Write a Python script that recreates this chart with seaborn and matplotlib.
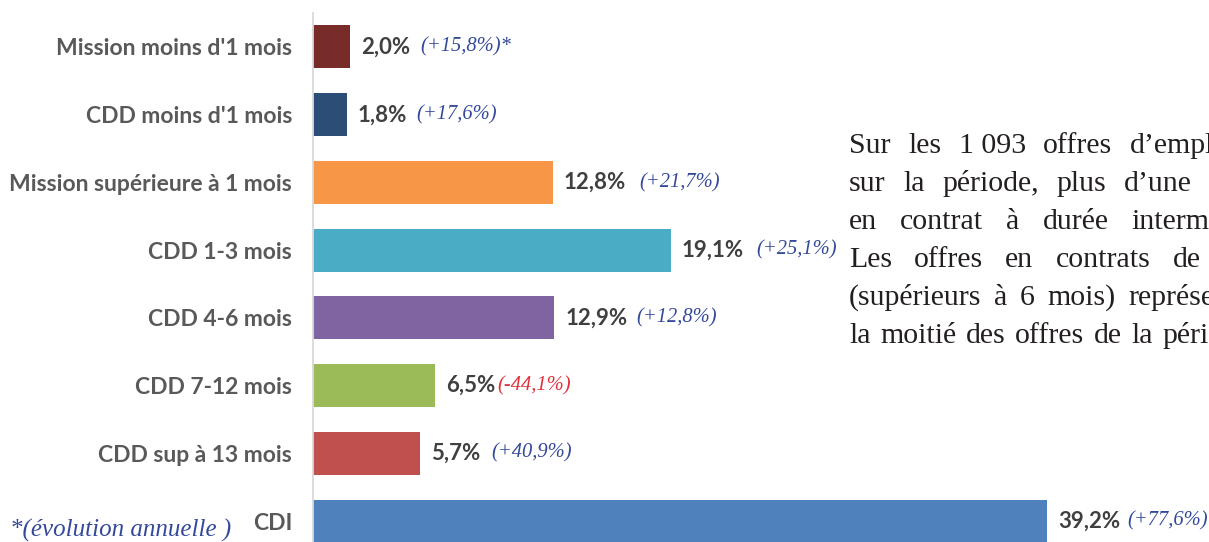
import pandas as pd
import seaborn as sns
import matplotlib
matplotlib.use("Agg")
from matplotlib import pyplot as plt

# Style de base
sns.set_style("white")
plt.rcParams['font.family'] = ['Lato', 'DejaVu Sans']

# Données
categories = ["Mission moins d'1 mois", "CDD moins d'1 mois", "Mission supérieure à 1 mois",
              "CDD 1-3 mois", "CDD 4-6 mois", "CDD 7-12 mois", "CDD sup à 13 mois", "CDI"]
parts = [2.0, 1.8, 12.8, 19.1, 12.9, 6.5, 5.7, 39.2]
evolutions = [15.8, 17.6, 21.7, 25.1, 12.8, -44.1, 40.9, 77.6]

couleurs = ["#772C2A", "#2C4D75", "#F79646", "#4BACC6",
            "#8064A2", "#9BBB59", "#C0504D", "#4F81BD"]

# Texte de commentaire (coupé par le bord droit, comme sur l'original)
lignes = ["Sur les 1\u00a0093 offres d’emploi diffusées",
          "sur la période, plus d’une sur trois",
          "en contrat à durée intermédiaire",
          "Les offres en contrats de longue durée",
          "(supérieurs à 6 mois) représentent",
          "la moitié des offres de la période."]
espaces = [17.5, 17.5, 23, 22, 12.5, 9.5]
ecarts = [10, 9, 13, 12, 9, 2, 11, 7]

df = pd.DataFrame({'categorie': categories, 'part': parts})

fig = plt.figure(figsize=(12.09, 5.42), dpi=100)
ax = fig.add_axes([313 / 1209, 0, 1 - 313 / 1209, 1])

sns.barplot(data=df, x='part', y='categorie', hue='categorie', palette=couleurs,
            legend=False, width=0.635, saturation=1, linewidth=0, ax=ax)

ax.set_xlim(0, 896 / 18.72)
ax.set_ylim(7.31, -0.694)
ax.set_xticks([])
ax.set_xlabel('')
ax.set_ylabel('')
ax.tick_params(axis='y', length=0, pad=15)
for lab in ax.get_yticklabels():
    lab.set_fontweight('bold')
    lab.set_color('#595959')
    lab.set_fontsize(16.5)

sns.despine(ax=ax, left=False, bottom=True)
ax.spines['left'].set_color('#D9D9D9')
ax.spines['left'].set_linewidth(1.3)
ax.spines['left'].set_bounds(-0.5, 7.31)

# Étiquettes de valeurs et évolutions
for i, (v, e) in enumerate(zip(parts, evolutions)):
    txt = ax.annotate(f"{v:.1f}".replace('.', ',') + '%', xy=(v, i), xytext=(8, 0),
                      textcoords='offset points', va='center', ha='left',
                      fontsize=16, fontweight='bold', color='#404040',
                      annotation_clip=False)
    evo = f"({e:+.1f}%)".replace('.', ',')
    if i == 0:
        evo += '*'
    ax.annotate(evo, xy=(1, 0.5), xycoords=txt, xytext=(ecarts[i], 0),
                textcoords='offset pixels', va='center', ha='left',
                fontsize=14.8, style='italic', family='Liberation Serif',
                color='#E0303A' if e < 0 else '#34499A', annotation_clip=False)

# Note de bas de graphique
fig.text(10 / 1209, 5 / 542, "*(évolution annuelle )", fontsize=18, style='italic',
         family='Liberation Serif', color='#34499A', va='baseline', ha='left')

# Paragraphe justifié à droite
renderer = fig.canvas.get_renderer()
W, H = fig.bbox.width, fig.bbox.height
for k, (ligne, esp) in enumerate(zip(lignes, espaces)):
    x = 849
    y = 153 + 38 * k
    for mot in ligne.split(' '):
        t = fig.text(x / W, 1 - y / H, mot, fontsize=21.5, family='Liberation Serif',
                     color='#231F20', va='baseline', ha='left')
        x += t.get_window_extent(renderer).width + esp

fig.savefig('out.png', dpi=100)
